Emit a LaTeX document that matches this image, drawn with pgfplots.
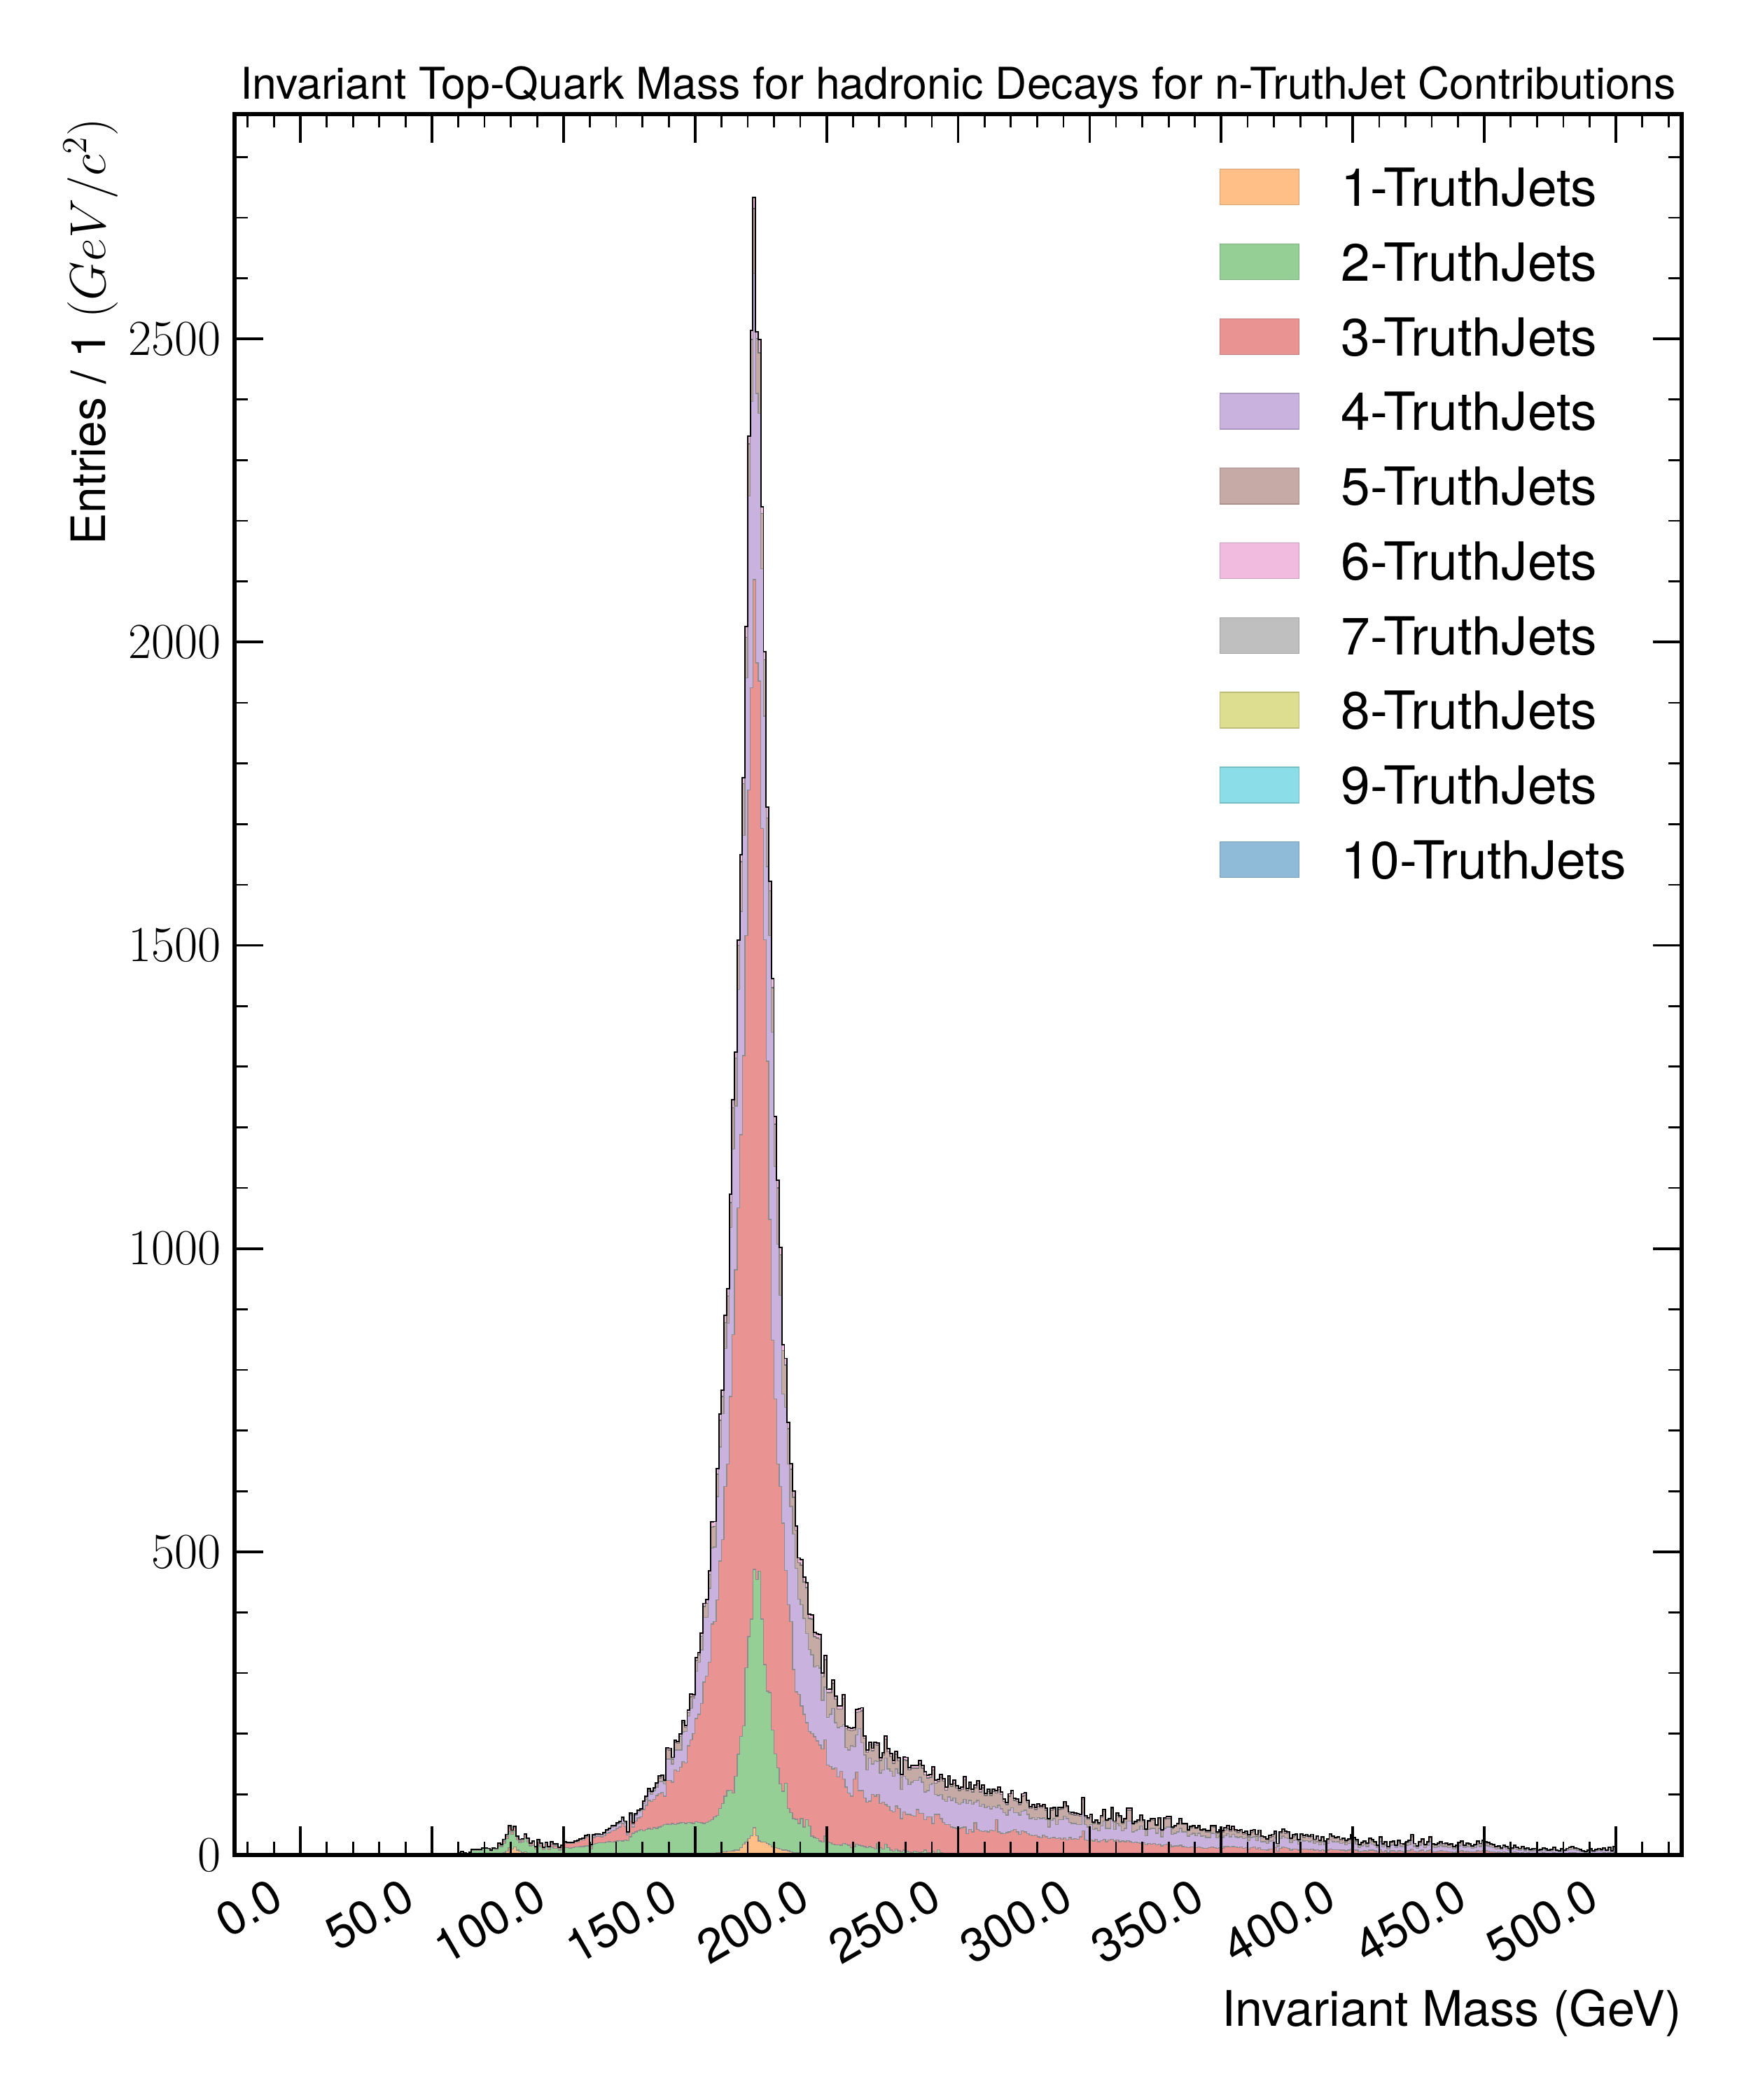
\documentclass[border=0pt]{standalone}
\usepackage{fontspec}
\setmainfont{TeX Gyre Heros}
\usepackage{pgfplots}
\usepackage{pgfplotstable}
\pgfplotsset{compat=1.18}
\definecolor{c1}{HTML}{FFBF86}
\definecolor{c2}{HTML}{95CF95}
\definecolor{c3}{HTML}{EA9393}
\definecolor{c4}{HTML}{C9B3DE}
\definecolor{c5}{HTML}{C5AAA5}
\definecolor{c6}{HTML}{F1BBE0}
\definecolor{c7}{HTML}{BFBFBF}
\definecolor{c8}{HTML}{DDDE90}
\definecolor{c9}{HTML}{8BDEE7}
\definecolor{c10}{HTML}{8FBBD9}
\pgfplotstableread{
x O G R P B T
35 0 0 0 0 0 0
36 0 0 0 0 0 0
37 0 1 1 1 1 1
38 0 0 0 0 0 0
39 0 0 0 0 0 0
40 0 0 0 0 0 0
41 0 0 0 0 0 0
42 0 0 0 0 0 0
43 0 1 1 1 1 1
44 0 0 0 0 0 0
45 0 0 0 0 0 0
46 0 0 0 0 0 0
47 0 0 0 0 0 0
48 0 0 0 0 0 0
49 0 0 0 0 0 0
50 0 2 2 2 2 2
51 0 0 0 0 0 0
52 0 0 0 0 0 0
53 0 2 2 2 2 2
54 0 0 0 0 0 0
55 0 1 1 1 1 1
56 0 2 2 2 2 2
57 0 0 0 0 0 0
58 0 1 1 1 1 1
59 0 2 2 2 2 2
60 0 3 3 3 3 3
61 0 5 6 6 6 6
62 0 3 3 3 3 3
63 0 2 2 2 2 2
64 0 4 5 5 5 5
65 0 8 9 9 9 9
66 0 8 9 9 9 9
67 1 8 9 9 9 9
68 0 8 9 9 9 9
69 0 11 12 12 12 12
70 1 11 12 12 12 12
71 1 10 11 11 11 11
72 1 7 8 8 8 8
73 1 10 11 12 12 12
74 1 9 10 11 11 11
75 1 15 18 19 20 20
76 2 13 15 16 17 17
77 4 19 23 25 26 26
78 6 27 31 33 34 34
79 12 39 45 47 48 48
80 10 34 38 40 41 41
81 13 40 45 46 47 47
82 8 25 28 30 31 31
83 6 20 23 25 26 26
84 4 21 24 26 27 27
85 5 28 32 34 35 35
86 2 21 25 27 28 28
87 1 15 18 19 20 20
88 1 16 20 22 23 23
89 1 10 12 13 14 14
90 2 16 21 23 25 25
91 1 13 17 19 20 20
92 3 9 11 12 13 13
93 1 14 18 20 21 21
94 1 9 12 13 14 14
95 1 13 18 20 22 22
96 0 11 15 17 18 18
97 0 11 15 17 18 18
98 0 8 11 12 13 13
99 0 10 13 15 16 16
100 0 12 20 21 22 22
101 0 12 19 20 21 21
102 0 11 19 20 21 21
103 0 12 19 20 21 21
104 0 13 21 22 23 23
105 0 13 22 23 24 24
106 0 14 25 26 27 27
107 0 14 25 27 28 28
108 0 15 29 31 32 32
109 0 15 31 33 34 34
110 0 10 15 16 17 17
111 0 18 29 32 33 33
112 0 19 31 34 35 35
113 0 20 31 34 35 35
114 0 20 30 33 34 34
115 0 20 32 36 37 37
116 0 21 35 40 42 42
117 0 22 37 42 44 44
118 0 21 40 46 47 48
119 0 22 41 47 48 49
120 1 23 44 51 52 53
121 0 24 46 53 54 55
122 0 23 52 59 61 62
123 0 25 47 53 55 56
124 0 24 33 36 37 38
125 0 30 56 66 68 69
126 0 36 46 51 52 53
127 1 38 56 65 67 68
128 0 40 61 71 73 74
129 0 42 63 73 75 76
130 0 40 75 85 88 89
131 1 42 82 92 95 97
132 0 44 90 105 108 110
133 0 42 88 100 103 105
134 1 45 92 106 109 111
135 0 44 98 112 117 119
136 0 46 101 121 127 130
137 1 48 103 121 129 132
138 0 50 97 117 122 124
139 0 51 123 158 174 177
140 1 50 123 158 173 176
141 0 52 120 150 158 161
142 1 50 140 173 186 189
143 0 52 138 173 184 187
144 1 53 145 173 196 200
145 1 54 154 203 218 222
146 0 52 152 204 211 214
147 1 54 180 229 235 239
148 1 53 190 242 261 265
149 1 52 200 258 261 264
150 1 55 225 303 321 326
151 1 54 232 318 330 334
152 1 53 250 338 361 366
153 2 52 285 392 410 415
154 2 54 295 392 415 421
155 2 56 318 440 462 469
156 3 58 381 506 541 549
157 3 63 385 508 542 550
158 4 65 421 591 628 637
159 4 77 485 673 717 727
160 5 85 520 728 756 766
161 5 97 608 835 878 890
162 6 106 645 877 922 934
163 6 107 756 1035 1076 1090
164 7 102 858 1164 1232 1246
165 8 130 965 1235 1314 1324
166 8 166 1067 1427 1500 1509
167 12 196 1188 1556 1638 1650
168 18 213 1318 1681 1767 1777
169 21 309 1516 1941 2008 2026
170 27 360 1756 2241 2327 2340
171 32 389 1925 2397 2499 2514
172 45 471 2103 2608 2715 2733
173 32 454 1966 2410 2501 2512
174 23 468 1936 2377 2477 2499
175 21 389 1693 2121 2212 2223
176 21 314 1509 1878 1971 1984
177 19 270 1309 1630 1710 1728
178 17 268 1048 1516 1590 1606
179 13 206 849 1357 1430 1445
180 12 167 752 1135 1205 1218
181 11 144 645 1007 1100 1113
182 10 117 608 923 990 1002
183 8 105 547 760 832 842
184 8 118 469 738 808 819
185 7 77 413 645 703 713
186 5 70 385 575 636 645
187 4 60 306 529 590 600
188 4 59 269 473 535 543
189 4 52 265 422 482 490
190 3 60 246 413 478 487
191 2 46 232 390 450 458
192 2 58 218 365 441 449
193 2 48 204 339 390 397
194 2 31 200 330 389 396
195 2 29 195 310 360 367
196 2 27 188 312 358 365
197 2 23 181 308 356 364
198 2 21 175 255 294 300
199 2 31 190 277 322 329
200 2 21 148 227 268 273
201 1 20 146 232 268 274
202 1 18 142 242 283 289
203 1 17 144 218 257 262
204 1 17 129 210 241 246
205 1 16 138 212 241 246
206 1 19 125 215 258 264
207 1 18 112 177 208 212
208 1 16 102 173 206 210
209 1 12 97 180 205 209
210 1 14 125 178 206 210
211 0 18 137 198 235 240
212 0 16 106 208 236 241
213 0 15 106 185 238 243
214 0 14 94 165 192 196
215 0 12 87 140 169 173
216 0 14 89 160 182 186
217 0 12 100 150 172 176
218 0 10 97 155 182 186
219 0 19 100 154 181 185
220 0 12 85 135 156 160
221 0 10 87 140 165 169
222 0 18 83 160 191 196
223 0 12 80 142 170 175
224 0 8 73 138 162 167
225 0 6 71 130 151 156
226 0 10 81 142 166 171
227 0 7 77 135 155 160
228 0 5 60 108 129 133
229 0 8 71 130 157 162
230 0 6 67 125 156 161
231 0 5 67 116 140 144
232 0 4 65 120 143 148
233 0 6 64 123 143 148
234 0 5 75 123 143 148
235 0 4 69 128 150 156
236 0 5 69 120 143 148
237 0 8 58 104 132 137
238 0 4 63 106 127 132
239 0 4 63 116 128 133
240 0 6 52 118 140 145
241 0 3 67 100 118 123
242 0 9 67 98 121 125
243 0 4 60 100 128 133
244 0 3 54 92 122 126
245 0 2 50 88 107 112
246 0 3 50 96 125 130
247 0 2 46 90 113 117
248 0 3 45 94 118 123
249 0 2 44 86 110 114
250 0 1 44 84 106 110
251 0 2 45 86 108 112
252 0 3 46 92 124 129
253 0 1 35 85 106 110
254 0 2 42 90 116 120
255 0 1 38 84 104 108
256 0 1 53 87 111 115
257 0 2 42 90 118 122
258 0 1 40 80 104 108
259 0 2 39 84 111 115
260 0 1 40 78 98 102
261 0 1 38 80 105 109
262 0 0 41 76 98 102
263 0 1 40 80 105 109
264 0 0 58 78 102 106
265 0 1 38 82 108 112
266 0 0 36 76 100 104
267 0 1 35 70 88 92
268 0 0 37 66 83 87
269 0 1 38 74 97 101
270 0 0 40 78 102 106
271 0 1 42 70 90 94
272 0 0 38 70 88 92
273 0 1 34 66 83 87
274 0 0 40 72 97 101
275 0 1 38 74 99 103
276 0 0 35 67 86 90
277 0 0 33 60 77 80
278 0 1 32 62 79 83
279 0 0 33 58 75 78
280 0 0 30 62 80 84
281 0 0 28 60 78 81
282 0 1 33 61 80 83
283 0 0 30 58 74 77
284 0 0 27 46 58 60
285 0 0 28 57 74 77
286 0 1 29 60 76 79
287 0 0 27 50 63 65
288 0 0 28 58 75 78
289 0 0 26 58 76 79
290 0 0 28 64 85 88
291 0 1 25 60 78 81
292 0 0 29 54 68 71
293 0 0 26 52 67 70
294 0 0 27 52 66 69
295 0 0 26 50 65 68
296 0 0 30 50 64 67
297 0 0 40 70 92 95
298 0 0 25 50 62 65
299 0 0 24 46 58 61
300 0 0 25 50 64 67
301 0 0 23 42 52 54
302 0 0 26 44 56 58
303 0 0 22 40 51 53
304 0 0 24 48 62 65
305 0 0 26 56 72 75
306 0 0 22 44 56 58
307 0 0 25 44 58 60
308 0 0 26 58 76 79
309 0 0 23 42 54 56
310 0 0 25 52 66 69
311 0 1 22 48 62 65
312 0 0 23 40 52 54
313 0 0 22 44 58 60
314 0 0 24 56 74 77
315 0 0 22 56 74 77
316 0 0 20 38 50 52
317 0 0 21 40 53 55
318 0 0 20 42 55 58
319 0 0 19 48 63 66
320 0 0 20 42 55 58
321 0 0 17 32 41 43
322 0 0 19 42 55 57
323 0 0 18 44 58 60
324 0 0 19 44 57 60
325 0 0 17 36 48 50
326 0 0 18 44 58 61
327 0 0 15 30 40 42
328 0 0 17 44 58 61
329 0 0 18 46 60 63
330 0 0 17 46 60 63
331 0 0 14 34 44 46
332 0 0 15 36 47 49
333 0 0 15 38 50 52
334 0 0 16 44 57 60
335 0 0 14 38 50 52
336 0 0 13 38 50 52
337 0 0 12 31 40 42
338 0 0 13 34 45 47
339 0 0 13 36 47 49
340 0 0 12 32 43 45
341 0 0 13 36 47 49
342 0 0 12 31 40 42
343 0 0 11 32 41 43
344 0 0 11 29 38 40
345 0 0 12 29 38 40
346 0 0 13 36 47 49
347 0 0 12 35 46 48
348 0 0 11 28 36 38
349 0 0 12 31 40 42
350 0 0 11 29 38 40
351 0 0 14 32 41 45
352 0 0 14 35 44 48
353 0 0 13 30 39 42
354 0 0 14 34 43 47
355 0 0 13 30 39 42
356 0 0 12 29 37 40
357 0 0 13 30 39 42
358 0 0 11 27 34 37
359 0 0 12 28 36 39
360 0 0 10 24 30 33
361 0 0 12 29 37 40
362 0 0 13 30 39 42
363 0 0 10 24 31 34
364 0 0 12 30 38 41
365 0 0 9 22 28 31
366 0 0 9 22 28 30
367 0 0 8 19 25 27
368 0 0 10 23 29 32
369 0 0 10 24 31 34
370 0 0 12 28 36 39
371 0 0 6 14 17 19
372 0 0 11 27 35 38
373 0 0 13 31 40 43
374 0 0 12 28 36 39
375 0 0 11 27 35 38
376 0 0 8 20 26 28
377 0 0 10 24 30 33
378 0 0 10 25 32 35
379 0 0 8 18 23 25
380 0 0 10 25 32 35
381 0 0 10 23 29 32
382 0 0 10 24 31 34
383 0 0 9 22 28 31
384 0 0 10 24 31 34
385 0 0 8 19 24 26
386 0 0 9 22 28 31
387 0 0 7 17 22 24
388 0 0 9 22 28 30
389 0 0 7 17 21 23
390 0 0 8 19 25 27
391 0 0 10 25 32 35
392 0 0 9 22 28 31
393 0 0 9 21 27 29
394 0 0 9 22 28 30
395 0 0 8 19 24 26
396 0 0 8 20 26 28
397 0 0 7 17 22 24
398 0 0 8 19 25 27
399 0 0 10 24 30 33
400 0 0 9 21 27 29
401 0 0 8 18 23 25
402 0 0 5 12 16 17
403 0 0 6 15 19 21
404 0 0 7 17 21 23
405 0 0 6 14 18 20
406 0 0 8 20 26 28
407 0 0 8 18 23 25
408 0 0 7 16 20 22
409 0 0 5 12 15 16
410 0 0 9 22 28 30
411 0 0 5 13 17 18
412 0 0 7 16 20 22
413 0 0 4 10 13 14
414 0 0 7 16 20 22
415 0 0 7 17 21 23
416 0 0 5 12 15 16
417 0 0 7 17 22 24
418 0 0 6 14 17 19
419 0 0 5 13 17 18
420 0 0 7 16 20 22
421 0 0 7 17 22 24
422 0 0 10 24 30 33
423 0 0 6 14 17 19
424 0 0 5 11 14 15
425 0 0 7 16 20 22
426 0 0 8 19 25 27
427 0 0 5 12 16 17
428 0 0 7 16 20 22
429 0 0 9 22 28 30
430 0 0 5 13 17 18
431 0 0 5 12 16 17
432 0 0 6 14 18 20
433 0 0 7 16 20 22
434 0 0 6 14 17 19
435 0 0 6 14 18 20
436 0 0 5 12 16 17
437 0 0 5 13 17 18
438 0 0 4 10 13 14
439 0 0 5 12 15 16
440 0 0 6 15 19 21
441 0 0 7 17 21 23
442 0 0 5 12 15 16
443 0 0 6 14 18 20
444 0 0 5 13 17 18
445 0 0 5 11 14 15
446 0 0 5 12 16 17
447 0 0 7 17 21 23
448 0 0 6 14 17 19
449 0 0 7 17 22 24
450 0 0 7 16 20 22
451 0 0 6 15 19 21
452 0 0 5 13 17 18
453 0 0 5 12 16 17
454 0 0 4 10 13 14
455 0 0 5 11 14 15
456 0 0 4 9 11 12
457 0 0 5 12 15 16
458 0 0 4 10 13 14
459 0 0 3 8 10 11
460 0 0 4 9 11 12
461 0 0 5 12 15 16
462 0 0 4 9 12 13
463 0 0 3 8 10 11
464 0 0 4 10 13 14
465 0 0 3 7 9 10
466 0 0 4 9 11 12
467 0 0 3 6 8 9
468 0 0 3 7 9 10
469 0 0 3 8 10 11
470 0 0 2 6 7 8
471 0 0 3 6 8 9
472 0 0 4 9 11 12
473 0 0 3 7 9 10
474 0 0 2 6 7 8
475 0 0 3 6 8 9
476 0 0 4 9 12 13
477 0 0 2 6 7 8
478 0 0 2 5 6 7
479 0 0 3 7 9 10
480 0 0 2 6 7 8
481 0 0 3 8 10 11
482 0 0 4 9 12 13
483 0 0 4 10 13 14
484 0 0 4 9 11 12
485 0 0 3 8 10 11
486 0 0 3 6 8 9
487 0 0 2 5 6 7
488 0 0 2 4 5 6
489 0 0 2 6 7 8
490 0 0 3 7 9 10
491 0 0 2 5 6 7
492 0 0 3 6 8 9
493 0 0 3 8 10 11
494 0 0 3 6 8 9
495 0 0 4 9 11 12
496 0 0 2 6 7 8
497 0 0 4 9 12 13
498 0 0 2 5 6 7
499 0 0 4 10 13 14
500 0 0 4 10 13 14
}\datatable

\begin{document}
\begin{tikzpicture}
\path[use as bounding box] (0,0) rectangle (720pt,864pt);
\begin{axis}[
  at={(96.5pt,100.8pt)}, anchor=south west,
  scale only axis, width=595.3pt, height=716.3pt,
  xmin=-25, xmax=525, ymin=0, ymax=2871,
  axis on top,
  axis line style={line width=1.6pt},
  xtick={0,50,100,150,200,250,300,350,400,450,500},
  xticklabels={0.0,50.0,100.0,150.0,200.0,250.0,300.0,350.0,400.0,450.0,500.0},
  minor xtick={-20,-10,...,520},
  ytick={0,500,1000,1500,2000,2500},
  minor ytick={100,200,...,2800},
  /pgf/number format/1000 sep={},
  tick align=inside,
  major tick length=11.8pt, minor tick length=5.4pt,
  major tick style={line width=1.1pt, black},
  minor tick style={line width=0.8pt, black},
  xticklabel style={font=\fontsize{19.5}{22}\selectfont, inner sep=0pt, xshift=-12.8pt, yshift=-8.6pt, rotate=30, anchor=north east},
  yticklabel style={font=\fontsize{20}{24}\selectfont, inner sep=0pt, xshift=-5.5pt},
  title={Invariant Top-Quark Mass for hadronic Decays for n-TruthJet Contributions},
  title style={font=\fontsize{18}{20}\selectfont, at={(axis description cs:0.5,1.00852)}, anchor=base, inner sep=0pt, yshift=-6pt},
  xlabel={Invariant Mass (GeV)},
  xlabel style={font=\fontsize{20.2}{23}\selectfont, at={(axis description cs:1,-0.0982)}, anchor=base east, inner sep=0pt},
  ylabel={Entries / 1 $(GeV/c^2)$},
  ylabel style={font=\fontsize{19.5}{22}\selectfont, at={(axis description cs:-0.0993,0.9978)}, anchor=east, inner sep=0pt},
  legend image code/.code={\draw[#1] (0pt,-7.35pt) rectangle (32.5pt,7.35pt);},
  legend style={at={(axis description cs:0.6805,0.969)}, anchor=north west, draw=none, fill=none, inner sep=0pt, outer sep=0pt, row sep=15.0pt, column sep=17.3pt, font=\fontsize{21.6}{25}\selectfont, nodes={inner sep=0pt, text depth=0pt}},
  legend cell align=left,
]
\addlegendimage{fill=c1, draw=c1!85!black, line width=0.4pt}
\addlegendimage{fill=c2, draw=c2!85!black, line width=0.4pt}
\addlegendimage{fill=c3, draw=c3!85!black, line width=0.4pt}
\addlegendimage{fill=c4, draw=c4!85!black, line width=0.4pt}
\addlegendimage{fill=c5, draw=c5!85!black, line width=0.4pt}
\addlegendimage{fill=c6, draw=c6!85!black, line width=0.4pt}
\addlegendimage{fill=c7, draw=c7!85!black, line width=0.4pt}
\addlegendimage{fill=c8, draw=c8!85!black, line width=0.4pt}
\addlegendimage{fill=c9, draw=c9!85!black, line width=0.4pt}
\addlegendimage{fill=c10, draw=c10!85!black, line width=0.4pt}
\legend{1-TruthJets,2-TruthJets,3-TruthJets,4-TruthJets,5-TruthJets,6-TruthJets,7-TruthJets,8-TruthJets,9-TruthJets,10-TruthJets}
\addplot[forget plot, const plot, fill=c6, draw=black!60, line width=0.4pt] table[x=x, y=T] {\datatable} \closedcycle;
\addplot[forget plot, const plot, fill=c5, draw=black!55, line width=0.4pt] table[x=x, y=B] {\datatable} \closedcycle;
\addplot[forget plot, const plot, fill=c4, draw=black!45, line width=0.4pt] table[x=x, y=P] {\datatable} \closedcycle;
\addplot[forget plot, const plot, fill=c3, draw=black!45, line width=0.4pt] table[x=x, y=R] {\datatable} \closedcycle;
\addplot[forget plot, const plot, fill=c2, draw=black!45, line width=0.4pt] table[x=x, y=G] {\datatable} \closedcycle;
\addplot[forget plot, const plot, fill=c1, draw=black!45, line width=0.4pt] table[x=x, y=O] {\datatable} \closedcycle;
\addplot[forget plot, const plot, draw=black, line width=0.55pt] table[x=x, y=T] {\datatable};
\end{axis}
\end{tikzpicture}
\end{document}
